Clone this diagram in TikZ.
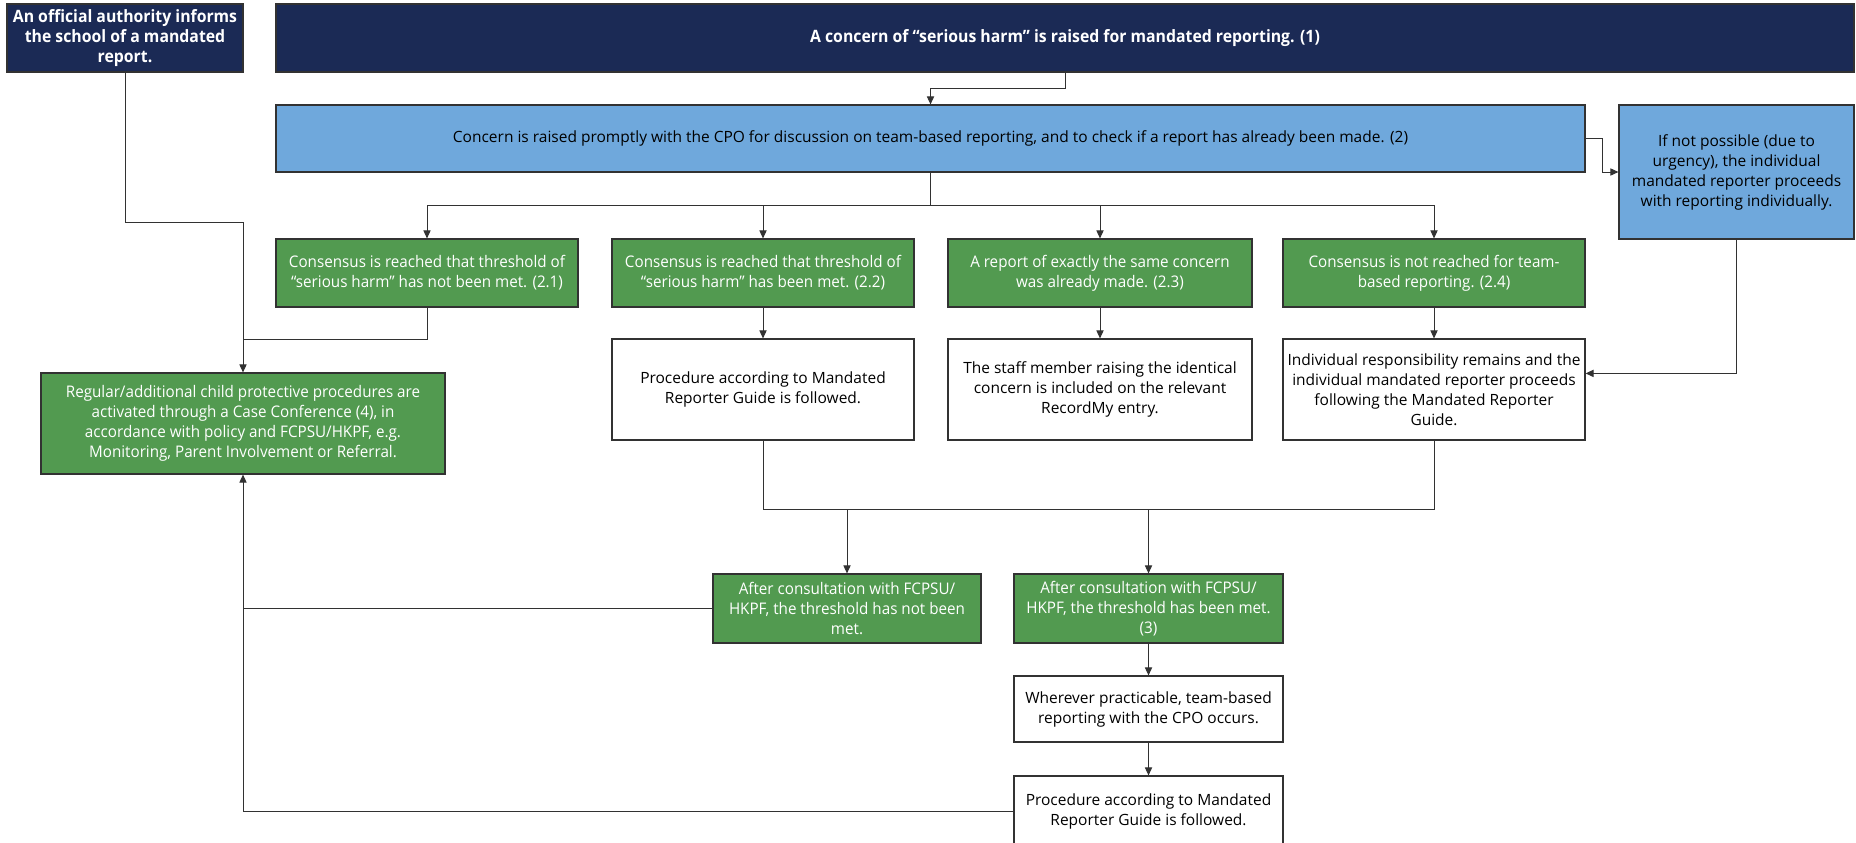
\documentclass[tikz,border=0pt]{standalone}
\usepackage{fontspec}
\setmainfont{Open Sans}
\newfontfamily\condfont[FakeStretch=0.95]{Open Sans}
\newfontfamily\hfont[FakeStretch=0.93]{Open Sans}
\usetikzlibrary{arrows.meta,calc}
\definecolor{navy}{RGB}{27,42,85}
\definecolor{lblue}{RGB}{111,168,220}
\definecolor{grn}{RGB}{82,154,80}
\definecolor{ln}{RGB}{50,50,50}
\tikzset{
 bx/.style={draw=ln, line width=0.6pt, inner sep=0pt, align=center},
 darkbox/.style={bx, fill=navy, text=white, font=\hfont\bfseries\fontsize{8.5}{10}\selectfont},
 bluebox/.style={bx, fill=lblue, text=black, font=\fontsize{7.75}{10}\selectfont},
 greenbox/.style={bx, fill=grn, text=white, font=\condfont\fontsize{8}{10}\selectfont},
 whitebox/.style={bx, fill=white, text=black, font=\fontsize{7.75}{10}\selectfont},
 con/.style={draw=ln, line width=0.5pt},
 arr/.style={con, -{Triangle[length=4pt,width=3.6pt]}},
}
\newcommand\mybox[7]{\node[#1, minimum width={(#5-#3)*0.5pt}, minimum height={(#6-#4)*0.5pt}] (#2) at ({(#3+#5)/2},{(#4+#6)/2}) {#7};}
\begin{document}
\begin{tikzpicture}[x=0.5pt,y=-0.5pt]
\clip (0,0) rectangle (1856,842);
\fill[white] (0,0) rectangle (1856,842);
% nodes
\mybox{darkbox}{auth}{7}{4}{243}{72}{An official authority informs\\the school of a mandated\\report.}
\mybox{darkbox}{main}{276}{4}{1854}{72}{A concern of “serious harm” is raised for mandated reporting. (1)}
\mybox{bluebox}{blue}{276}{105}{1585}{172}{Concern is raised promptly with the CPO for discussion on team-based reporting, and to check if a report has already been made. (2)}
\mybox{bluebox}{rblue}{1619}{105}{1854}{239}{If not possible (due to\\urgency), the individual\\mandated reporter proceeds\\with reporting individually.}
\mybox{greenbox}{g21}{276}{239}{578}{307}{Consensus is reached that threshold of\\“serious harm” has not been met. (2.1)}
\mybox{greenbox}{g22}{612}{239}{914}{307}{Consensus is reached that threshold of\\“serious harm” has been met. (2.2)}
\mybox{greenbox}{g23}{948}{239}{1252}{307}{A report of exactly the same concern\\was already made. (2.3)}
\mybox{greenbox}{g24}{1283}{239}{1585}{307}{Consensus is not reached for team-\\based reporting. (2.4)}
\mybox{whitebox}{w22}{612}{339}{914}{440}{Procedure according to Mandated\\Reporter Guide is followed.}
\mybox{whitebox}{w23}{948}{339}{1252}{440}{The staff member raising the identical\\concern is included on the relevant\\RecordMy entry.}
\mybox{whitebox}{w24}{1283}{339}{1585}{440}{Individual responsibility remains and the\\individual mandated reporter proceeds\\following the Mandated Reporter\\Guide.}
\mybox{greenbox}{big}{41}{373}{445}{474}{Regular/additional child protective procedures are\\activated through a Case Conference (4), in\\accordance with policy and FCPSU/HKPF, e.g.\\Monitoring, Parent Involvement or Referral.}
\mybox{greenbox}{gnot}{713}{574}{981}{643}{After consultation with FCPSU/\\HKPF, the threshold has not been\\met.}
\mybox{greenbox}{gmet}{1014}{574}{1283}{643}{After consultation with FCPSU/\\HKPF, the threshold has been met.\\(3)}
\mybox{whitebox}{wprac}{1014}{676}{1283}{742}{Wherever practicable, team-based\\reporting with the CPO occurs.}
\mybox{whitebox}{wproc}{1014}{776}{1283}{846}{Procedure according to Mandated\\Reporter Guide is followed.}
% connectors
\draw[arr] (main.south) -- ++(0,16) -| (blue.north);
\draw[con] (blue.south) -- ++(0,33) coordinate (hub);
\draw[arr] (hub) -| (g21.north);
\draw[arr] (hub) -| (g22.north);
\draw[arr] (hub) -| (g23.north);
\draw[arr] (hub) -| (g24.north);
\draw[arr] (blue.east) -- ++(17,0) |- (rblue.west);
\draw[arr] (auth.south) -- ++(0,150) -| (big.north);
\draw[con] (g21.south) |- ($(big.north)+(0,-33)$);
\draw[arr] (g22.south) -- (w22.north);
\draw[arr] (g23.south) -- (w23.north);
\draw[arr] (g24.south) -- (w24.north);
\draw[arr] (rblue.south) |- ($(w24.north east)+(0,35)$);
\draw[con] (w22.south) -- ++(0,69) coordinate (bus) -| (w24.south);
\draw[arr] (gnot.north |- bus) -- (gnot.north);
\draw[arr] (gmet.north |- bus) -- (gmet.north);
\draw[con] (gnot.west) -- (gnot.west -| big.south);
\draw[arr] (wproc.west) -| (big.south);
\draw[arr] (gmet.south) -- (wprac.north);
\draw[arr] (wprac.south) -- (wproc.north);
\end{tikzpicture}
\end{document}
